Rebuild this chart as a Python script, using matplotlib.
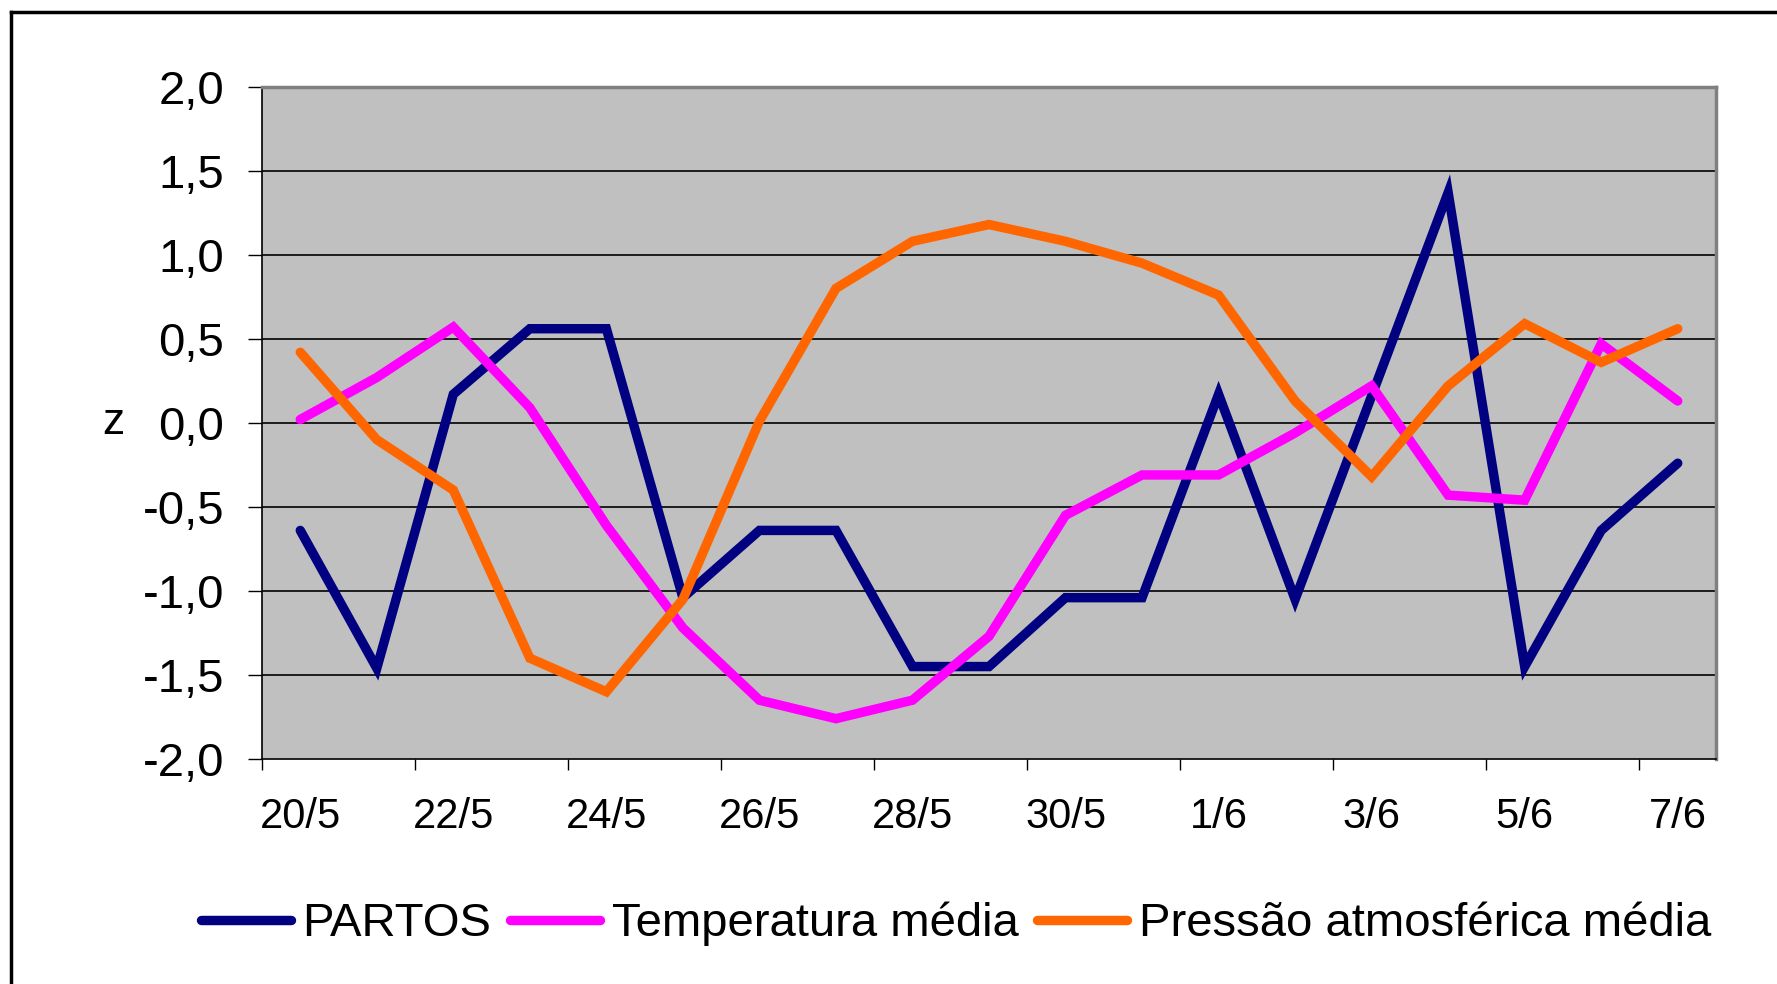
import numpy as np
import matplotlib
matplotlib.use('Agg')
import matplotlib.pyplot as plt
from matplotlib.lines import Line2D

plt.rcParams['font.family'] = ['Liberation Sans', 'DejaVu Sans']

# dias (20/5 a 7/6)
dias = ['20/5', '21/5', '22/5', '23/5', '24/5', '25/5', '26/5', '27/5', '28/5', '29/5',
        '30/5', '31/5', '1/6', '2/6', '3/6', '4/6', '5/6', '6/6', '7/6']

partos = [-0.64, -1.46, 0.17, 0.56, 0.56, -1.04, -0.64, -0.64, -1.45, -1.45,
          -1.04, -1.04, 0.17, -1.05, 0.16, 1.37, -1.45, -0.64, -0.24]
temperatura = [0.02, 0.27, 0.57, 0.09, -0.61, -1.22, -1.65, -1.76, -1.65, -1.27,
               -0.55, -0.31, -0.31, -0.06, 0.22, -0.43, -0.46, 0.47, 0.13]
pressao = [0.42, -0.10, -0.40, -1.40, -1.60, -1.05, 0.01, 0.80, 1.08, 1.18,
           1.08, 0.95, 0.76, 0.13, -0.32, 0.22, 0.59, 0.36, 0.56]

y_ticks = [-2.0, -1.5, -1.0, -0.5, 0.0, 0.5, 1.0, 1.5, 2.0]
y_labels = ['-2,0', '-1,5', '-1,0', '-0,5', '0,0', '0,5', '1,0', '1,5', '2,0']

series = [
    ('PARTOS', partos, '#000080'),
    ('Temperatura média', temperatura, '#FF00FF'),
    ('Pressão atmosférica média', pressao, '#FF6600'),
]

fig = plt.figure(figsize=(17.77, 9.84), dpi=100)
ax = fig.add_axes([262 / 1777, 1 - 759 / 984, (1716 - 262) / 1777, (759 - 86.7) / 984])
ax.set_facecolor('#C0C0C0')

x = np.arange(len(dias))
for nome, vals, cor in series:
    ax.plot(x, vals, color=cor, lw=6.8, label=nome,
            solid_capstyle='round', solid_joinstyle='miter', zorder=3)

ax.set_xlim(-0.5, len(dias) - 0.5)
ax.set_ylim(-2.0, 2.0)

# grade horizontal
for v in y_ticks[1:-1]:
    ax.axhline(v, color='black', lw=1.2, zorder=1)

ax.set_yticks(y_ticks)
ax.set_yticklabels(y_labels)
ax.tick_params(axis='y', direction='out', length=10, width=1, pad=17, labelsize=34)

# marcas entre categorias, rótulos a cada dois dias
ax.set_xticks(np.arange(-0.5, len(dias) - 1, 2))
ax.set_xticklabels([])
ax.set_xticks(x[::2], minor=True)
ax.set_xticklabels(dias[::2], minor=True)
ax.tick_params(axis='x', which='major', direction='out', length=8, width=1)
ax.tick_params(axis='x', which='minor', length=0, pad=27, labelsize=30)

ax.spines['left'].set_color('black')
ax.spines['left'].set_linewidth(1.2)
ax.spines['bottom'].set_color('black')
ax.spines['bottom'].set_linewidth(1.2)
for s in ['top', 'right']:
    ax.spines[s].set_color('#808080')
    ax.spines[s].set_linewidth(2.5)

ax.set_ylabel('z', fontsize=32, rotation=0, va='center')
ax.yaxis.set_label_coords(-0.102, 0.5)

fig.legend(loc='center', bbox_to_anchor=(0.538, 0.061), ncol=3, frameon=False,
           fontsize=34, handlelength=1.9, handletextpad=0.25, columnspacing=0.4)

# moldura externa
fig.add_artist(Line2D([11 / 1777, 11 / 1777], [0, 1 - 12 / 984], color='black', lw=2.5))
fig.add_artist(Line2D([11 / 1777, 1], [1 - 12 / 984, 1 - 12 / 984], color='black', lw=2.5))

fig.savefig('out.png', dpi=100)
